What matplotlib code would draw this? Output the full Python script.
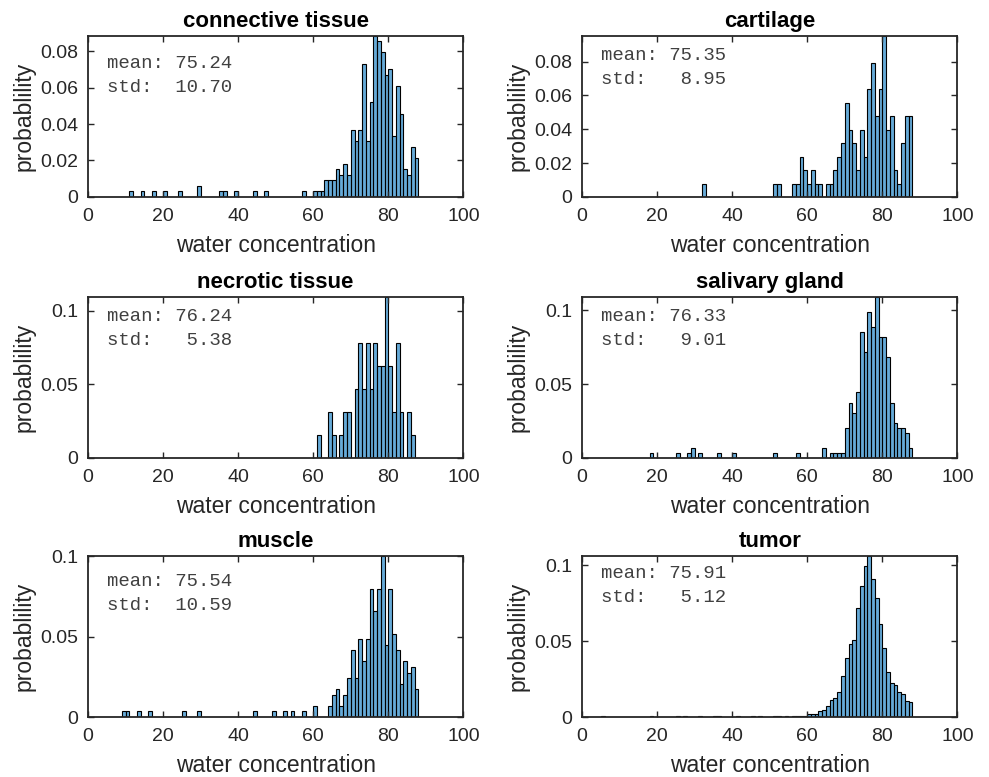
#Import modules
import numpy as np
import matplotlib
matplotlib.use("Agg")
import matplotlib.pyplot as plt
from matplotlib.ticker import FuncFormatter

plt.rcParams['font.family'] = ['Liberation Sans', 'DejaVu Sans']

#Panel titles and stats labels
titles = ["connective tissue", "cartilage", "necrotic tissue",
          "salivary gland", "muscle", "tumor"]
means = [75.24, 75.35, 76.24, 76.33, 75.54, 75.91]
stds = [10.70, 8.95, 5.38, 9.01, 10.59, 5.12]

#Histogram bins (left edge, width 1) and counts
conn_bins = [11, 14, 17, 20, 24, 29, 35, 36, 39, 44, 47, 57, 60, 61, 62,
             63, 64, 65, 66, 67, 68, 69, 70, 71, 72, 73, 74, 75, 76, 77,
             78, 79, 80, 81, 82, 83, 84, 85, 86, 87]
conn_counts = [1, 1, 1, 1, 1, 2, 1, 1, 1, 1, 1, 1, 1, 1, 1,
               3, 3, 3, 5, 4, 6, 4, 12, 10, 12, 24, 10, 17, 29, 28,
               26, 22, 23, 11, 20, 15, 5, 4, 9, 7]

cart_bins = [32, 51, 52, 56, 57, 58, 59, 60, 61, 62, 63, 65, 66, 67, 68,
             69, 70, 71, 72, 73, 74, 75, 76, 77, 78, 79, 80, 81, 82, 83,
             84, 85, 86, 87]
cart_counts = [1, 1, 1, 1, 1, 3, 2, 1, 2, 1, 1, 1, 1, 2, 3,
               4, 7, 5, 4, 2, 5, 3, 8, 10, 6, 8, 12, 5, 6, 2,
               1, 4, 6, 6]

necr_bins = [61, 64, 65, 67, 68, 69, 71, 72, 73, 74, 75, 76, 77, 78, 79,
             80, 81, 82, 83, 85, 86]
necr_counts = [1, 2, 1, 1, 2, 2, 3, 5, 3, 5, 3, 5, 4, 4, 7,
               4, 2, 5, 2, 2, 1]

saliv_bins = [18, 25, 28, 29, 31, 36, 40, 51, 57, 64, 66, 67, 68, 69,
              70, 71, 72, 73, 74, 75, 76, 77, 78, 79, 80, 81, 82, 83,
              84, 85, 86, 87]
saliv_counts = [1, 1, 1, 2, 1, 1, 1, 1, 1, 2, 1, 1, 1, 1,
                6, 11, 9, 13, 25, 21, 29, 26, 32, 24, 24, 20, 11, 7,
                6, 6, 5, 2]

musc_bins = [9, 10, 13, 16, 25, 29, 44, 49, 52, 54, 57, 60, 64, 65, 66,
             67, 68, 69, 70, 71, 72, 73, 74, 75, 76, 77, 78, 79, 80, 81,
             82, 83, 84, 85, 86, 87]
musc_counts = [1, 1, 1, 1, 1, 1, 1, 1, 1, 1, 1, 2, 2, 4, 5,
               2, 4, 7, 12, 7, 14, 10, 14, 23, 19, 23, 29, 13, 23, 15,
               12, 6, 10, 8, 9, 5]

#Tumor: relative heights (per mille)
tumor_bins = [5, 18, 25, 27, 31, 35, 36, 41, 45, 47, 51, 52, 54, 56, 57, 58,
              59, 60, 61, 62, 63, 64, 65, 66, 67, 68, 69, 70, 71, 72, 73,
              74, 75, 76, 77, 78, 79, 80, 81, 82, 83, 84, 85, 86, 87]
tumor_counts = [0.4, 0.4, 0.4, 0.4, 0.4, 0.4, 0.4, 0.4, 0.4, 0.4, 0.5, 0.5, 0.5, 0.6, 0.8, 0.8,
                0.9, 1.7, 1.7, 2.2, 3.9, 4.4, 7.4, 11.6, 12.4, 16.8, 27.5, 38.9, 48.7, 51.3, 72.1,
                86.7, 100.4, 107.0, 91.9, 78.8, 61.6, 45.9, 30.1, 22.9, 21.4, 16.8, 15.1, 10.7, 9.8]

all_bins = [conn_bins, cart_bins, necr_bins, saliv_bins, musc_bins, tumor_bins]
all_counts = [conn_counts, cart_counts, necr_counts, saliv_counts, musc_counts, tumor_counts]

#Layout
lefts = [0.089, 0.5885]
bottoms = [0.7465, 0.4106, 0.0772]
axW = 0.3795
axH = 0.2075
text_y = [0.83, 0.88, 0.88, 0.88, 0.84, 0.89]
ytick_sets = [np.arange(0, 0.081, 0.02), np.arange(0, 0.081, 0.02),
              [0, 0.05, 0.1], [0, 0.05, 0.1], [0, 0.05, 0.1], [0, 0.05, 0.1]]

axcol = '#262626'
barFace = (0, 0.447, 0.741, 0.6)

fig = plt.figure(figsize=(9.89, 7.77), dpi=100)

for i in range(6):
    r = i // 2
    c = i % 2
    ax = fig.add_axes([lefts[c], bottoms[r], axW, axH])

    counts = np.array(all_counts[i], dtype=float)
    prob = counts / counts.sum()
    ax.bar(all_bins[i], prob, width=1, align='edge', color=barFace,
           edgecolor='black', linewidth=0.8)

    ax.set_xlim(0, 100)
    ax.set_ylim(0, prob.max())
    ax.set_xticks(np.arange(0, 101, 20))
    ax.set_yticks(ytick_sets[i])
    ax.yaxis.set_major_formatter(FuncFormatter(lambda v, p: '%g' % round(v, 4)))

    ax.tick_params(direction='in', top=True, right=True, length=4.5, width=1,
                   colors=axcol, labelsize=14)
    ax.tick_params(axis='x', pad=8)
    ax.tick_params(axis='y', pad=7.2)
    for s in ax.spines.values():
        s.set_color(axcol)
        s.set_linewidth(1.3)

    ax.set_title(titles[i], fontsize=16, fontweight='bold', color='black', pad=6)
    ax.set_xlabel("water concentration", fontsize=16.5, color=axcol, labelpad=6.5)
    ax.set_ylabel("probablility", fontsize=16.5, color=axcol, labelpad=3)

    #Stats text
    ax.text(0.05, text_y[i], 'mean: %5.2f' % means[i], transform=ax.transAxes,
            family='Liberation Mono', fontsize=13.7, color='#404040', va='center')
    ax.text(0.05, text_y[i] - 0.15, 'std: %6.2f' % stds[i], transform=ax.transAxes,
            family='Liberation Mono', fontsize=13.7, color='#404040', va='center')

fig.savefig("out.png", dpi=100)
